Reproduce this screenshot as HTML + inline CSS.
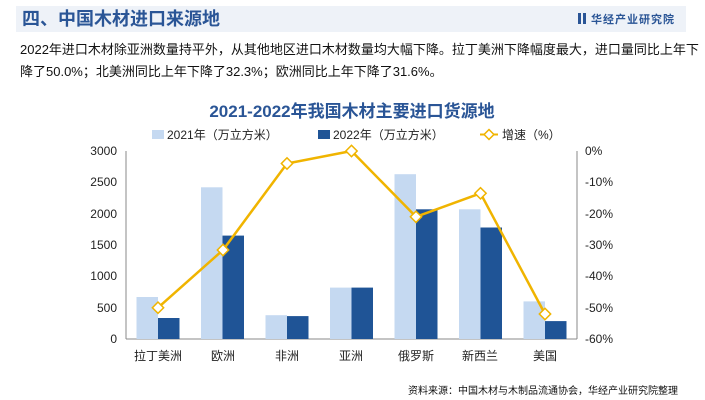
<!DOCTYPE html>
<html><head><meta charset="utf-8"><style>
body{margin:0;width:705px;height:400px;background:#fff;font-family:"Liberation Sans","Noto Sans CJK SC",sans-serif;position:relative;overflow:hidden}
.hdr{position:absolute;left:16px;top:6px;width:670px;height:26px;background:#eef2f8}
.ttl{position:absolute;left:22px;top:6px;font-size:18px;font-weight:bold;color:#2a5596;line-height:26px}
.logo{position:absolute;left:578px;top:11px;font-size:11px;font-weight:bold;color:#2a5596;letter-spacing:1px}
.p{position:absolute;left:20px;font-size:13px;color:#111;line-height:20px}
</style></head><body>
<div class="hdr"></div>
<div class="ttl">四、中国木材进口来源地</div>
<div class="logo"><span style="display:inline-block;width:3px;height:11px;background:#2a5596;margin-right:2px;vertical-align:-1px"></span><span style="display:inline-block;width:3px;height:11px;background:#2a5596;margin-right:5px;vertical-align:-1px"></span>华经产业研究院</div>
<div class="p" style="top:40px">2022年进口木材除亚洲数量持平外，从其他地区进口木材数量均大幅下降。拉丁美洲下降幅度最大，进口量同比上年下</div>
<div class="p" style="top:62px">降了50.0%；北美洲同比上年下降了32.3%；欧洲同比上年下降了31.6%。</div>
<svg width="705" height="400" style="position:absolute;left:0;top:0" font-family="Liberation Sans,Noto Sans CJK SC,sans-serif">
<text x="352" y="117" text-anchor="middle" font-size="17" font-weight="bold" fill="#2a5596">2021-2022年我国木材主要进口货源地</text>
<rect x="152" y="130" width="12" height="9" fill="#c5d9f1"/><text x="167" y="139" font-size="12" fill="#222">2021年（万立方米）</text>
<rect x="318" y="130" width="12" height="9" fill="#1f5496"/><text x="333" y="139" font-size="12" fill="#222">2022年（万立方米）</text>
<line x1="480" y1="134.5" x2="498" y2="134.5" stroke="#f0b400" stroke-width="2"/><rect x="485.5" y="131" width="7" height="7" fill="#fff" stroke="#f0b400" stroke-width="1.5" transform="rotate(45 489 134.5)"/><text x="502" y="139" font-size="12" fill="#222">增速（%）</text>
<g stroke="#888" stroke-width="1">
<line x1="126" y1="151" x2="126" y2="339"/><line x1="577" y1="151" x2="577" y2="339"/><line x1="126" y1="339" x2="577" y2="339"/>
</g>
<g font-size="12" fill="#222" text-anchor="end">
<text x="117" y="155">3000</text><text x="117" y="186">2500</text><text x="117" y="218">2000</text><text x="117" y="249">1500</text><text x="117" y="280">1000</text><text x="117" y="312">500</text><text x="117" y="343">0</text>
</g>
<g font-size="12" fill="#222">
<text x="585" y="155">0%</text><text x="585" y="186">-10%</text><text x="585" y="218">-20%</text><text x="585" y="249">-30%</text><text x="585" y="280">-40%</text><text x="585" y="312">-50%</text><text x="585" y="343">-60%</text>
</g>
<g id="b"></g>
<g font-size="12" fill="#222" text-anchor="middle">
<text x="158" y="360">拉丁美洲</text><text x="223" y="360">欧洲</text><text x="287" y="360">非洲</text><text x="351" y="360">亚洲</text><text x="416" y="360">俄罗斯</text><text x="480" y="360">新西兰</text><text x="545" y="360">美国</text>
</g>
<g>
<rect x="136.5" y="297" width="21.5" height="42" fill="#c5d9f1"/><rect x="158" y="318" width="21.5" height="21" fill="#1f5496"/>
<rect x="201" y="187.3" width="21.5" height="151.7" fill="#c5d9f1"/><rect x="222.5" y="235.6" width="21.5" height="103.4" fill="#1f5496"/>
<rect x="265.5" y="315.2" width="21.5" height="23.8" fill="#c5d9f1"/><rect x="287" y="316.1" width="21.5" height="22.9" fill="#1f5496"/>
<rect x="330" y="287.6" width="21.5" height="51.4" fill="#c5d9f1"/><rect x="351.5" y="287.6" width="21.5" height="51.4" fill="#1f5496"/>
<rect x="394.5" y="174.2" width="21.5" height="164.8" fill="#c5d9f1"/><rect x="416" y="209.3" width="21.5" height="129.7" fill="#1f5496"/>
<rect x="459" y="209.3" width="21.5" height="129.7" fill="#c5d9f1"/><rect x="480.5" y="227.5" width="21.5" height="111.5" fill="#1f5496"/>
<rect x="523.5" y="301.4" width="21.5" height="37.6" fill="#c5d9f1"/><rect x="545" y="321.1" width="21.5" height="17.9" fill="#1f5496"/>
</g>
<polyline points="158,307.7 223,250 287,163.5 351.5,151 416,216.8 480.5,193.3 545,314" fill="none" stroke="#f0b400" stroke-width="2.5"/>
<g fill="#fff" stroke="#f0b400" stroke-width="1.5">
<rect x="154" y="303.7" width="8" height="8" transform="rotate(45 158 307.7)"/>
<rect x="219" y="246" width="8" height="8" transform="rotate(45 223 250)"/>
<rect x="283" y="159.5" width="8" height="8" transform="rotate(45 287 163.5)"/>
<rect x="347.5" y="147" width="8" height="8" transform="rotate(45 351.5 151)"/>
<rect x="412" y="212.8" width="8" height="8" transform="rotate(45 416 216.8)"/>
<rect x="476.5" y="189.3" width="8" height="8" transform="rotate(45 480.5 193.3)"/>
<rect x="541" y="310" width="8" height="8" transform="rotate(45 545 314)"/>
</g>
<text x="678" y="394" text-anchor="end" font-size="10" fill="#111">资料来源：中国木材与木制品流通协会，华经产业研究院整理</text>
</svg>
</body></html>
